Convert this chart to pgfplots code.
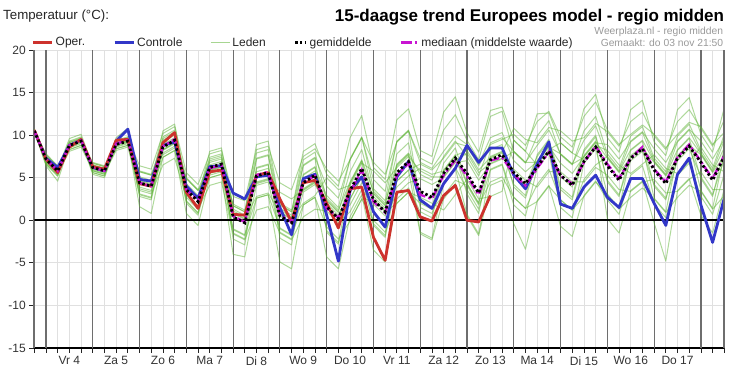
\documentclass[border=0pt]{standalone}
\usepackage{fontspec}
\setmainfont{Liberation Sans}
\usepackage{pgfplots}
\usepackage{pgfplotstable}
\pgfplotsset{compat=1.18}
\definecolor{operred}{RGB}{205,50,45}
\definecolor{ctrlblue}{RGB}{50,55,200}
\definecolor{ledgreen}{RGB}{95,180,55}
\definecolor{medmag}{RGB}{200,20,210}
\definecolor{gridlt}{RGB}{224,224,224}
\definecolor{griddk}{RGB}{110,110,110}

\pgfplotstableread{
k o c mean med m1 m2 m3 m4 m5 m6 m7 m8 m9 m10 m11 m12 m13 m14 m15 m16
0 10.6 10.5 10.5 10.5 10.6 10.4 10.7 10.4 10.5 10.6 10.4 10.5 10.6 10.5 10.4 10.6 10.5 10.5 10.4 10.5
1 7.2 7.3 7.2 7.2 7.4 7.0 7.4 6.9 7.3 6.6 7.8 6.8 7.7 6.4 7.5 7.3 6.8 7.5 6.6 7.7
2 5.6 6.2 5.8 5.8 6.0 5.6 6.0 5.5 5.9 5.2 6.4 5.4 6.3 4.6 6.1 5.9 5.4 6.1 5.2 6.3
3 8.6 8.8 8.8 8.8 9.3 8.3 9.6 8.1 8.9 9.2 8.6 8.8 9.1 8.8 8.5 9.1 8.8 8.7 8.8 8.3
4 9.5 9.4 9.3 9.4 9.8 8.8 10.1 8.6 9.4 9.7 9.1 9.3 9.6 9.3 9.0 9.6 9.3 9.2 9.3 8.8
5 6.3 6.2 6.2 6.2 6.4 6.0 6.4 5.9 6.3 5.6 6.8 5.8 6.7 5.4 6.5 6.3 5.8 6.5 5.6 6.7
6 6.0 5.8 5.8 5.8 6.0 5.6 6.0 5.5 5.9 5.2 6.4 5.4 6.3 5.0 6.1 5.9 5.4 6.1 5.2 6.3
7 9.4 9.3 8.9 9.0 9.4 8.4 9.7 8.2 9.0 9.3 8.7 8.9 9.2 8.9 8.6 9.2 8.9 8.8 8.9 8.4
8 9.5 10.7 9.3 9.4 9.8 8.8 10.8 8.6 9.4 9.7 9.1 9.3 9.6 9.3 9.0 9.6 9.3 9.2 9.3 8.8
9 4.3 4.8 4.4 4.4 4.9 3.9 4.9 3.5 4.7 3.0 5.7 2.8 6.4 1.6 5.1 3.7 4.6 5.8 3.1 5.7
10 4.0 4.6 4.0 4.0 4.5 3.5 4.5 3.1 4.3 2.6 5.3 2.4 6.0 0.8 4.7 3.3 4.2 5.4 2.7 5.3
11 9.1 8.8 8.6 8.7 9.8 7.4 10.5 6.5 8.9 9.4 8.3 8.2 10.2 7.4 7.9 8.3 9.6 9.2 8.7 7.7
12 10.3 9.2 9.4 9.5 10.6 8.2 11.3 7.3 9.7 10.2 9.1 9.0 11.0 8.2 8.7 9.1 10.4 10.0 9.5 8.5
13 3.3 4.0 3.6 3.6 4.1 3.1 4.1 2.7 3.9 2.2 4.9 2.0 5.6 0.8 4.3 2.9 3.8 5.0 2.3 4.9
14 1.4 2.6 2.2 2.3 2.7 1.7 2.7 1.3 2.5 0.8 3.5 0.6 4.2 -0.6 2.9 1.5 2.4 3.6 0.9 3.5
15 5.7 6.3 6.2 6.1 7.4 5.0 8.1 4.1 6.5 7.0 5.9 5.8 7.8 5.0 5.5 5.9 7.2 6.8 6.3 5.3
16 5.9 6.4 6.6 6.5 7.8 5.4 8.5 4.5 6.9 7.4 6.3 6.2 8.2 5.4 5.9 6.3 7.6 7.2 6.7 5.7
17 0.7 3.2 0.4 0.5 1.3 -1.0 1.7 -1.6 0.9 -2.2 0.8 0.4 2.8 -4.0 1.9 -1.5 1.7 1.1 -1.1 3.2
18 0.6 2.5 -0.3 -0.2 0.6 -1.7 1.0 -2.3 0.2 -2.9 0.1 -0.3 2.3 -4.3 1.2 -2.2 1.0 0.4 -1.8 2.5
19 5.3 5.1 5.2 5.3 7.3 2.6 8.9 1.2 5.7 6.2 2.8 7.2 8.3 2.6 4.3 4.1 7.9 4.5 6.1 4.4
20 5.6 5.3 5.6 5.7 7.7 3.0 9.3 1.6 6.1 6.6 3.2 7.6 8.7 3.0 4.7 4.5 8.3 4.9 6.5 4.8
21 2.5 1.5 0.5 0.6 1.4 -0.9 1.8 -1.5 1.0 -2.1 0.9 0.5 4.4 -4.9 2.0 -1.4 1.8 1.2 -1.0 3.3
22 -0.2 -1.7 -0.3 -0.2 0.6 -1.7 1.0 -2.3 0.2 -2.9 0.1 -0.3 3.6 -5.7 1.2 -2.2 1.0 0.4 -1.8 2.5
23 4.4 4.9 4.4 4.5 6.5 1.8 8.1 0.4 4.9 5.4 2.0 6.4 7.5 1.8 3.5 3.3 7.1 3.7 5.3 3.6
24 4.7 5.4 5.3 5.2 7.4 2.7 9.0 1.3 5.8 6.3 2.9 7.3 8.4 2.7 4.4 4.2 8.0 4.6 6.2 4.5
25 2.0 0.6 1.6 1.4 4.0 -0.8 5.4 1.1 2.6 -1.2 5.0 -1.4 6.0 -4.3 2.3 1.7 2.4 2.0 2.9 1.6
26 -0.9 -4.8 0.2 0.3 2.6 -2.2 4.0 -0.3 1.2 -2.6 3.6 -2.8 4.6 -5.7 0.9 0.3 1.0 0.6 1.5 0.2
27 3.7 3.5 3.5 3.3 7.1 -0.1 9.7 1.0 4.5 4.3 4.1 2.5 7.1 0.4 1.8 4.4 5.7 2.5 7.2 -0.1
28 3.9 5.1 6.1 5.9 9.7 2.5 12.3 3.6 7.1 6.9 6.7 5.1 9.7 3.0 4.4 7.0 8.3 5.1 9.8 2.5
29 -2.0 1.0 2.4 2.2 4.8 0.0 6.2 1.9 3.4 -0.4 5.8 -0.6 6.8 -3.5 3.1 2.5 3.2 2.8 3.7 2.4
30 -4.7 -0.8 1.0 0.9 3.4 -1.4 4.8 0.5 2.0 -1.8 4.4 -2.0 5.4 -4.9 1.7 1.1 1.8 1.4 2.3 1.0
31 3.3 5.1 5.6 5.3 9.2 2.0 11.8 3.1 6.6 6.4 6.2 4.6 9.2 2.5 3.9 6.5 7.8 4.6 9.3 2.0
32 3.5 6.9 6.9 6.7 10.5 3.3 13.1 4.4 7.9 7.7 7.5 5.9 10.5 3.8 5.2 7.8 9.1 5.9 10.6 3.3
33 0.4 2.4 3.4 3.0 7.3 2.0 8.2 4.9 5.4 -1.4 5.8 -1.6 6.8 1.0 6.1 1.5 2.2 6.6 2.2 2.7
34 -0.1 1.4 2.7 2.5 6.6 1.3 7.5 4.2 4.7 -2.1 5.1 -2.3 6.1 0.3 5.4 0.8 1.5 5.9 1.5 2.0
35 2.9 4.3 5.5 5.3 10.6 2.9 12.7 5.0 7.5 4.3 5.1 2.5 8.1 5.9 5.8 4.4 5.7 7.3 6.7 1.2
36 4.1 6.1 7.3 7.1 12.4 4.7 14.5 6.8 9.3 6.1 6.9 4.3 9.9 7.7 7.6 6.2 7.5 9.1 8.5 3.0
37 0.0 8.8 5.5 5.2 9.4 4.1 10.3 7.0 7.5 0.7 7.9 0.5 8.9 3.1 8.2 3.6 4.3 8.7 4.3 4.8
38 -0.2 6.8 3.2 3.0 7.1 1.8 8.0 4.7 5.2 -1.6 5.6 -1.8 6.6 0.8 5.9 1.3 2.0 6.4 2.0 2.5
39 2.9 8.5 7.1 7.0 12.2 4.5 12.9 6.6 9.1 5.9 6.7 4.1 9.7 7.5 7.4 6.0 7.3 8.9 8.3 2.8
40 nan 8.5 7.7 7.4 12.8 5.1 13.3 7.2 9.7 6.5 7.3 4.7 10.3 8.1 8.0 6.6 7.9 9.5 8.9 3.4
41 nan 5.3 5.6 5.4 8.0 2.7 9.4 8.1 8.1 1.8 6.0 -0.4 7.0 4.2 10.8 2.7 5.4 10.1 3.9 9.4
42 nan 3.7 4.3 4.1 6.7 1.4 8.1 6.8 6.8 0.5 4.7 -3.4 5.7 2.9 9.5 1.4 4.1 8.8 2.6 8.1
43 nan 6.6 6.3 6.1 9.9 2.2 12.5 6.8 8.8 6.1 3.9 2.3 6.9 7.7 9.1 4.2 7.5 11.6 7.0 6.5
44 nan 9.2 8.1 8.0 11.7 4.0 12.6 8.6 10.6 7.9 5.7 4.1 8.7 9.5 10.9 6.0 9.3 12.8 8.8 8.3
45 nan 1.9 5.3 5.2 7.7 2.4 9.1 7.8 7.8 1.5 5.7 -0.7 6.7 3.9 10.5 2.4 5.1 9.8 3.6 9.1
46 nan 1.4 4.1 4.3 6.5 1.2 7.9 6.6 6.6 0.3 4.5 -1.9 5.5 2.7 9.3 1.2 3.9 8.6 2.4 7.9
47 nan 3.9 6.9 6.8 10.5 2.8 13.1 7.4 9.4 6.7 4.5 2.9 7.5 8.3 9.7 4.8 8.1 12.2 7.6 7.1
48 nan 5.3 8.6 8.7 12.2 4.5 14.8 9.1 11.1 8.4 6.2 4.6 9.2 10.0 11.4 6.5 9.8 13.9 9.3 8.8
49 nan 2.7 6.4 6.6 7.8 3.0 9.7 8.9 7.4 3.1 5.3 2.4 7.3 4.5 10.4 7.5 4.7 10.6 0.2 8.2
50 nan 1.5 4.7 4.9 6.1 1.3 8.0 7.2 5.7 1.4 3.6 0.7 5.6 2.8 8.7 5.8 3.0 8.9 -1.5 6.5
51 nan 4.9 7.3 7.3 9.9 2.7 13.0 9.3 8.3 7.6 3.4 5.3 7.4 8.2 11.6 9.2 7.0 10.1 3.5 5.5
52 nan 4.9 8.4 8.6 11.0 3.8 14.1 10.4 9.4 8.7 4.5 6.4 8.5 9.3 12.7 10.3 8.1 11.2 4.6 6.6
53 nan 2.0 5.9 6.0 7.3 2.5 9.2 8.4 6.9 2.6 4.8 1.9 6.8 4.0 9.9 7.0 4.2 10.1 -0.3 7.7
54 nan -0.6 4.3 4.5 5.7 0.9 7.6 6.8 5.3 1.0 3.2 0.3 5.2 2.4 8.3 5.4 2.6 8.5 -4.8 6.1
55 nan 5.4 7.3 7.4 9.9 2.7 13.0 9.3 8.3 7.6 3.4 5.3 7.4 8.2 11.6 9.2 7.0 10.1 3.5 5.5
56 nan 7.3 8.7 8.9 11.3 4.1 14.4 10.7 9.7 9.0 4.8 6.7 8.8 9.6 13.0 10.6 8.4 11.5 4.9 6.9
57 nan 1.8 6.8 6.9 8.2 3.4 10.1 9.3 7.8 3.5 5.7 2.8 7.7 4.9 10.8 7.9 5.1 11.0 0.6 8.6
58 nan -2.6 4.7 4.9 6.1 1.3 8.0 7.2 5.7 1.4 3.6 0.7 5.6 2.8 8.7 5.8 3.0 8.9 -1.5 6.5
59 nan 2.6 7.5 7.6 10.1 2.9 13.2 9.5 8.5 7.8 3.6 5.5 7.6 8.4 11.8 9.4 7.2 10.3 3.7 5.7
}\data

\pgfplotsset{
  dotleg/.style={legend image code/.code={\draw[black, line width=2.8pt, dash pattern=on 2.4pt off 2.4pt] (0pt,0pt) -- (11pt,0pt);}},
  magleg/.style={legend image code/.code={\draw[medmag, line width=2.6pt, dash pattern=on 11pt off 3pt on 2.5pt off 10pt] (0pt,0pt) -- (17pt,0pt);}},
}

\begin{document}
\begin{tikzpicture}
\begin{axis}[
  scale only axis, width=690pt, height=298pt,
  xmin=0, xmax=59, ymin=-15, ymax=20,
  axis x line*=bottom, axis y line*=left,
  x axis line style={black, line width=1.6pt, -},
  y axis line style={griddk, line width=1.6pt, -},
  xtick={3,7,...,55},
  xticklabels={Vr 4,Za 5,Zo 6,Ma 7,Di 8,Wo 9,Do 10,Vr 11,Za 12,Zo 13,Ma 14,Di 15,Wo 16,Do 17},
  minor xtick={0,...,59},
  xminorgrids=true,
  minor grid style={gridlt, line width=0.8pt},
  extra x ticks={1,5,...,57},
  extra x tick labels={},
  extra x tick style={grid=major, major grid style={griddk, line width=1.2pt}},
  ytick={-15,-10,...,20},
  ymajorgrids=true,
  major grid style={gridlt, line width=0.8pt},
  tick align=outside,
  major tick length=5pt, minor tick length=5pt,
  tick style={black!85, line width=0.8pt},
  tick label style={font=\fontsize{12}{14}\selectfont, text=black!80},
  /pgf/number format/assume math mode=true,
  legend image code/.code={\draw[#1] (0pt,0pt) -- (19pt,0pt);},
  legend style={at={(-0.004,1.025)}, anchor=west, draw=none, fill=none,
    inner sep=0pt, font=\fontsize{12}{14}\selectfont, text=black!85,
    /tikz/every even column/.append style={column sep=26pt}},
  legend columns=-1,
  legend cell align=left,
]
\addlegendimage{operred, line width=3pt}
\addlegendentry{Oper.}
\addlegendimage{ctrlblue, line width=3pt}
\addlegendentry{Controle}
\addlegendimage{ledgreen!55, line width=1pt}
\addlegendentry{Leden}
\addlegendimage{dotleg}
\addlegendentry{gemiddelde}
\addlegendimage{magleg}
\addlegendentry{mediaan (middelste waarde)}

\pgfplotsinvokeforeach{1,...,16}{
  \addplot[forget plot, ledgreen, opacity=0.5, line width=1pt, line join=round] table[x=k, y=m#1]{\data};
}
\draw[black, line width=1.8pt] (axis cs:0,0) -- (axis cs:59,0);
\addplot[forget plot, ctrlblue, line width=2.8pt, line join=round] table[x=k, y=c]{\data};
\addplot[forget plot, operred, line width=2.8pt, line join=round] table[x=k, y=o]{\data};
\addplot[forget plot, medmag, line width=2.4pt, dash pattern=on 9pt off 3pt on 2.5pt off 3pt] table[x=k, y=med]{\data};
\addplot[forget plot, black, line width=2.8pt, dash pattern=on 2.4pt off 2.4pt] table[x=k, y=mean]{\data};

\coordinate (BL) at (rel axis cs:0,0);
\coordinate (BR) at (rel axis cs:1,0);
\coordinate (TL) at (rel axis cs:0,1);
\coordinate (TR) at (rel axis cs:1,1);
\end{axis}
\draw[griddk, line width=1.6pt] (BR) -- (TR);
\node[anchor=west, inner sep=0pt, font=\fontsize{13.3}{15}\selectfont, text=black!85] at ([shift={(-31.3pt,34pt)}]TL) {Temperatuur (°C):};
\node[anchor=east, inner sep=0pt, font=\bfseries\fontsize{17}{19}\selectfont] at ([shift={(0pt,33pt)}]TR) {15-daagse trend Europees model - regio midden};
\node[anchor=east, inner sep=0pt, font=\fontsize{10.3}{12}\selectfont, text=black!40] at ([shift={(-1pt,18pt)}]TR) {Weerplaza.nl - regio midden};
\node[anchor=east, inner sep=0pt, font=\fontsize{10.3}{12}\selectfont, text=black!40] at ([shift={(-1pt,7pt)}]TR) {Gemaakt: do 03 nov 21:50};
\pgfresetboundingbox
\path[use as bounding box] ([shift={(-34.3pt,-42pt)}]BL) rectangle ++(732pt,390pt);
\end{tikzpicture}
\end{document}
